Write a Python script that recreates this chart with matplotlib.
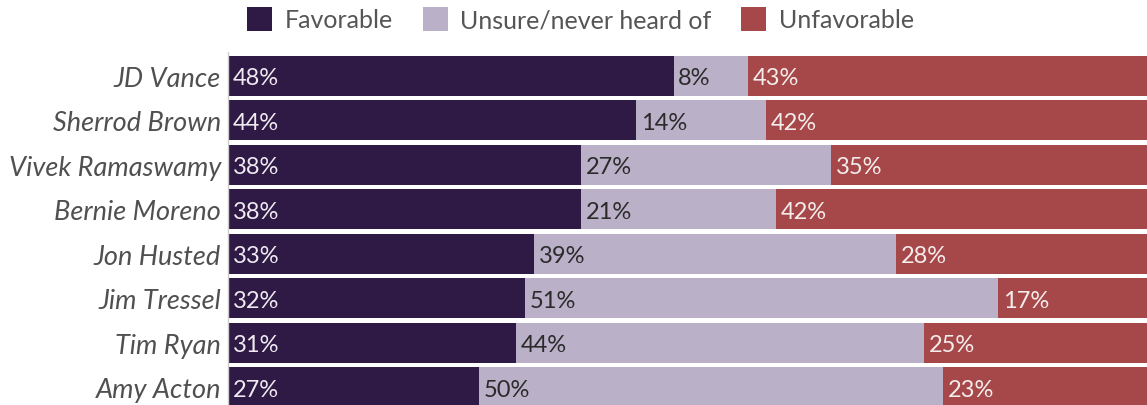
import matplotlib.pyplot as plt
from matplotlib.patches import Patch

# Survey results (percent)
names = ["JD Vance", "Sherrod Brown", "Vivek Ramaswamy", "Bernie Moreno",
         "Jon Husted", "Jim Tressel", "Tim Ryan", "Amy Acton"]
favorable = [48, 44, 38, 38, 33, 32, 31, 27]
unsure = [8, 14, 27, 21, 39, 51, 44, 50]
unfavorable = [43, 42, 35, 42, 28, 17, 25, 23]

series_names = ["Favorable", "Unsure/never heard of", "Unfavorable"]
colors = ["#2e1a45", "#bab0c8", "#a64849"]
label_colors = ["#f0eaf2", "#2b2b2b", "#f5ecec"]


def main():
    plt.rcParams['font.family'] = ['Lato', 'DejaVu Sans']

    fig = plt.figure(figsize=(11.47, 4.06), dpi=100)
    ax = fig.add_axes([228 / 1147, 0, 1 - 228 / 1147, 1 - 53 / 406])

    ypos = list(range(len(names)))
    lefts = [0] * len(names)
    for vals, col, tcol in zip([favorable, unsure, unfavorable], colors, label_colors):
        ax.barh(ypos, vals, left=lefts, height=0.9, color=col, linewidth=0)
        for y, l, v in zip(ypos, lefts, vals):
            ax.text(l + 0.5, y, f"{v}%", ha='left', va='center_baseline',
                    fontsize=17, color=tcol)
        lefts = [l + v for l, v in zip(lefts, vals)]

    ax.set_xlim(0, 99.0)
    ax.set_ylim(7.405, -0.54)
    ax.set_yticks(ypos)
    ax.set_yticklabels(names, fontsize=19.5, style='italic', color='#505050')
    ax.tick_params(axis='y', length=0, pad=5)
    ax.set_xticks([])
    for side in ['top', 'right', 'bottom']:
        ax.spines[side].set_visible(False)
    ax.spines['left'].set_color('#cccccc')
    ax.spines['left'].set_linewidth(1)

    handles = [Patch(facecolor=c, edgecolor='none') for c in colors]
    fig.legend(handles, series_names, loc='center', bbox_to_anchor=(0.506, 1 - 20 / 406),
               ncol=3, frameon=False, fontsize=18, handlelength=1.0, handleheight=1.1,
               handletextpad=0.5, columnspacing=1.2, labelcolor='#555555')

    fig.savefig("out.png", dpi=100)


if __name__ == "__main__":
    main()
